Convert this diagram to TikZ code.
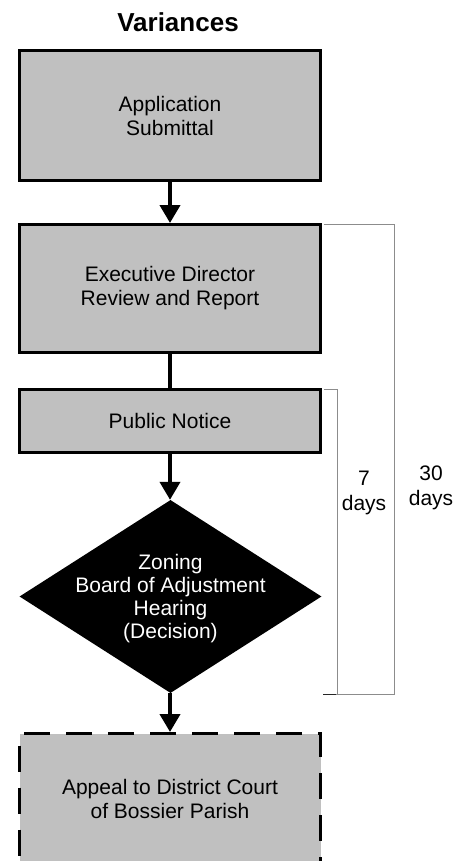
\documentclass[tikz,border=0pt]{standalone}
\usepackage{fontspec}
\setmainfont{Liberation Sans}
\usetikzlibrary{arrows.meta,shapes.geometric}
\definecolor{boxgray}{HTML}{C0C0C0}
\definecolor{bracketgray}{HTML}{8C8C8C}
\begin{document}
\begin{tikzpicture}[x=1pt,y=-1pt,
  stepbox/.style={draw=black,line width=3pt,fill=boxgray,rectangle,
    minimum width=301pt,inner sep=0pt,align=center,
    font=\fontsize{21}{24}\selectfont},
  appealbox/.style={stepbox,dash pattern=on 26pt off 16pt,dash phase=11pt},
  decision/.style={diamond,fill=black,draw=none,inner sep=0pt,
    minimum width=302pt,minimum height=193pt},
  decisiontext/.style={text=white,align=center,
    font=\fontsize{21}{23}\selectfont},
  flow/.style={line width=4pt,-{Triangle[width=20pt,length=18pt]}},
  link/.style={line width=4pt},
  bracket/.style={draw=bracketgray,line width=1pt},
  daylabel/.style={align=center,font=\fontsize{21}{25}\selectfont}]
\useasboundingbox (0,0) rectangle (464,861);
\clip (0,0) rectangle (464,861);

% title
\node[font=\bfseries\fontsize{26}{30}\selectfont] (title) at (178,22) {Variances};

% process steps
\node[stepbox,minimum height=130pt] (b1) at (170,115.5) {Application\\Submittal};
\node[stepbox,minimum height=128pt] (b2) at (170,288.5) {Executive Director\\Review and Report};
\node[stepbox,minimum height=63pt]  (b3) at (170,421) {Public Notice};
\node[decision] (d) at (170.5,596.5) {};
\node[decisiontext] (dt) at (170.5,599) {Zoning\\Board of Adjustment\\Hearing\\(Decision)};
\node[appealbox,minimum height=131pt] (b4) at (170,799) {Appeal to District Court\\of Bossier Parish};

% connectors
\draw[flow] (b1.south) -- (b2.north);
\draw[link] (b2.south) -- (b3.north);
\draw[flow] (b3.south) -- (b3.south |- d.north);
\draw[flow] (b4.north |- d.south) -- (b4.north);

% time brackets
\coordinate (end30) at (323,694);
\coordinate (end7) at (323,694);
\draw[bracket] ([xshift=1.5pt,yshift=-1.5pt]b2.north east) -- ++(71,0) |- (end30);
\draw[bracket] ([xshift=1.5pt,yshift=-1.5pt]b3.north east) -- ++(14,0) |- (end7);
\draw[line width=1pt,black!85] (end7) -- ++(13,0);

\node[daylabel] (d7) at (364,492.5) {7\\days};
\node[daylabel] (d30) at (431,488) {30\\days};
\end{tikzpicture}
\end{document}
